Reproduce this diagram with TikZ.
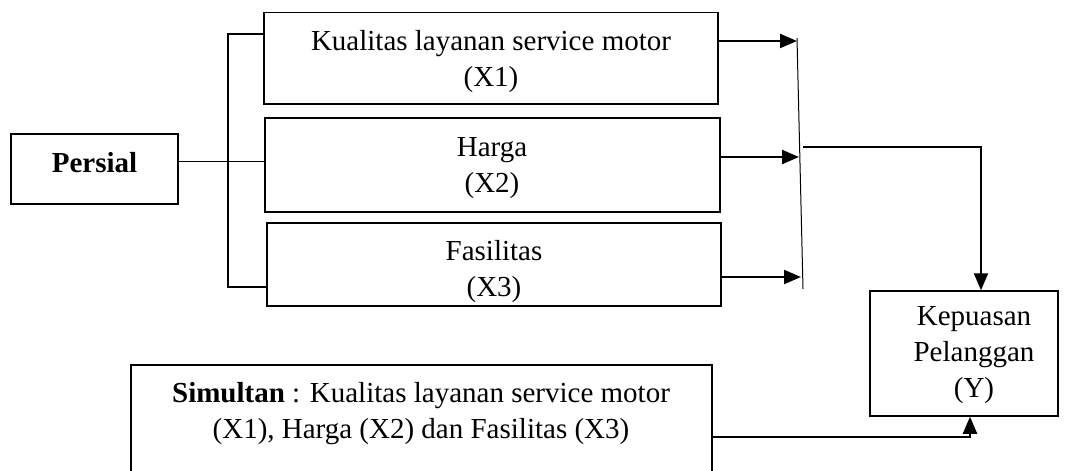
\documentclass[tikz,border=0pt]{standalone}
\usepackage{fontspec}
\setmainfont{Liberation Serif}
\usetikzlibrary{arrows.meta,positioning,calc}

\begin{document}
\begin{tikzpicture}[x=1pt,y=-1pt,
  blok/.style={draw=black,line width=1.5pt,inner sep=0pt},
  teks/.style={align=center,inner sep=0pt,font=\fontsize{29}{36}\selectfont},
  panah/.style={-{Triangle[length=17pt,width=14pt]},line width=2.2pt},
  tipis/.style={line width=1pt},
]
\clip (0,0) rectangle (1069,471);
\node[blok,minimum width=454pt,minimum height=91.5pt] (x1) at (491,58.25) {};
\node[blok,minimum width=455pt,minimum height=94pt] (x2) at (492.5,165) {};
\node[blok,minimum width=454pt,minimum height=83pt] (x3) at (494,264.5) {};
\node[blok,minimum width=167pt,minimum height=70pt] (pers) at (94.5,169) {};
\node[blok,minimum width=188pt,minimum height=125pt] (kep) at (964,353.5) {};
\node[blok,minimum width=581pt,minimum height=150pt,anchor=north] (sim) at (421.5,364) {};
\node[teks] (tx1) at (491,61.7) {Kualitas layanan service motor\\(X1)};
\node[teks] (tx2) at (492,168) {Harga\\(X2)};
\node[teks] (tx3) at (494,271.2) {Fasilitas\\(X3)};
\node[teks,font=\fontsize{29}{36}\selectfont\bfseries] (tpers) at (94.5,162.2) {Persial};
\node[teks] (tkep) at (974,355) {Kepuasan\\Pelanggan\\(Y)};
\node[teks] (tsim) at (421,413.2) {\textbf{Simultan} : Kualitas layanan service motor\\(X1), Harga (X2) dan Fasilitas (X3)};
\coordinate (ka) at (228,34);
\coordinate (kb) at (228,287);
\coordinate (cab) at (228,161);
\draw[line width=1.5pt] (x1.west |- ka) -- (ka) -- (kb) -- (x3.west |- kb);
\draw[tipis] (pers.east |- cab) -- (x2.west |- cab);
\coordinate (ku) at (797,38);
\coordinate (kd) at (803,289);
\draw[tipis] (ku) -- (kd);
\coordinate (t1) at (797,41);
\coordinate (t2) at (799,157);
\coordinate (t3) at (801,277);
\draw[panah] (x1.east |- t1) -- (t1);
\draw[panah] (x2.east |- t2) -- (t2);
\draw[panah] (x3.east |- t3) -- (t3);
\coordinate (c2) at (803,147);
\coordinate (sb) at (981,147);
\draw[panah] (c2) -- (sb) -- (sb |- kep.north);
\coordinate (bw) at (970,437);
\draw[panah] (sim.east |- bw) -- (bw) -- (bw |- kep.south);
\end{tikzpicture}
\end{document}
